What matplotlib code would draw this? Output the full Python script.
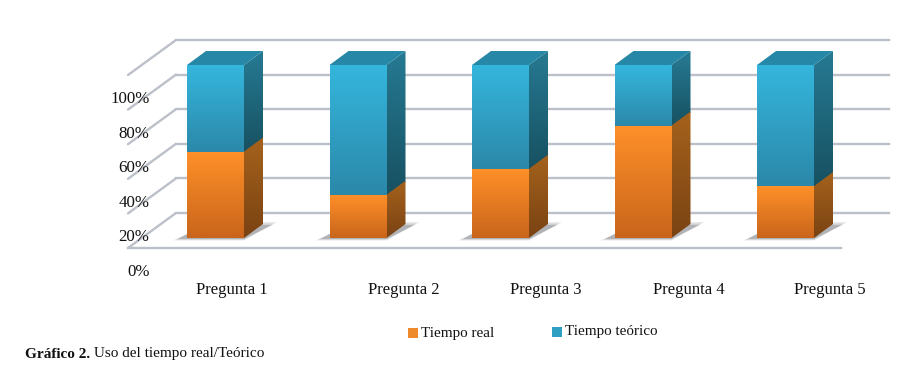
import numpy as np
import matplotlib
matplotlib.use("Agg")
import matplotlib.pyplot as plt
from matplotlib.colors import LinearSegmentedColormap
from matplotlib.patches import Polygon, Rectangle

categories = ["Pregunta 1", "Pregunta 2", "Pregunta 3", "Pregunta 4", "Pregunta 5"]
tiempo_real = [50, 25, 40, 65, 30]
tiempo_teorico = [50, 75, 60, 35, 70]
y_ticks = [0, 20, 40, 60, 80, 100]
y_tick_labels = ["0%", "20%", "40%", "60%", "80%", "100%"]
series_names = ["Tiempo real", "Tiempo teórico"]
caption_bold = "Gráfico 2."
caption_rest = " Uso del tiempo real/Teórico"

W, H = 901, 365
PX_X, PX_Y = 142.5, 1.73          # pixels per category / per percent
X0, Y0 = 215.5, 238               # pixel of first category, 0 %
BAR_W = 57 / PX_X
BAR_DX, BAR_DY = 19 / PX_X, 14 / PX_Y
WALL_DX, WALL_DY = 48 / PX_X, 35 / PX_Y
WALL_OFF = -10 / PX_Y             # front wall edge sits below the bars' base
WALL_L, WALL_R = (128 - X0) / PX_X, (841 - X0) / PX_X

plt.rcParams["font.family"] = ["Liberation Serif", "DejaVu Serif"]
fig = plt.figure(figsize=(W / 100, H / 100), dpi=100, facecolor="white")
ax = fig.add_axes([0, 0, 1, 1])
xlim = (-X0 / PX_X, (W - X0) / PX_X)
ylim = ((Y0 - H) / PX_Y, Y0 / PX_Y)
ax.axis("off")


def grad_fill(poly, top, bottom, z):
    xs, ys = zip(*poly)
    cmap = LinearSegmentedColormap.from_list("g", [bottom, top])
    im = ax.imshow(np.linspace(1, 0, 64).reshape(-1, 1), cmap=cmap, vmin=0, vmax=1,
                   extent=(min(xs), max(xs), min(ys), max(ys)), aspect="auto",
                   origin="upper", zorder=z, interpolation="bilinear")
    im.set_clip_path(Polygon(poly, transform=ax.transData))


GRID = "#bcc0c8"
LW = 1.7
for t in y_ticks:
    y = t + WALL_OFF
    ax.plot([WALL_L, WALL_L + WALL_DX], [y, y + WALL_DY], color=GRID, lw=LW,
            solid_capstyle="round", zorder=1)
    ax.plot([WALL_L + WALL_DX, WALL_R + WALL_DX], [y + WALL_DY, y + WALL_DY],
            color=GRID, lw=LW, zorder=1)
ax.plot([WALL_L, WALL_R], [WALL_OFF, WALL_OFF], color=GRID, lw=LW, zorder=1)

ORANGE = dict(front=("#ff9029", "#c9651b"), side=("#a5621c", "#7a4313"))
BLUE = dict(front=("#35b6dd", "#2b88a9"), side=("#267a93", "#175161"))
EPS = 0.8  # overlap that hides the seam between stacked segments

for i, (r, t) in enumerate(zip(tiempo_real, tiempo_teorico)):
    l, rr = i - BAR_W / 2, i + BAR_W / 2
    # soft floor shadow
    for g, a in zip((5, 2.5, 0), (0.14, 0.2, 0.3)):
        gx, gy = g / PX_X, g / PX_Y
        ax.add_patch(Polygon([(l - 9 / PX_X - gx, -1 / PX_Y - gy * 0.3),
                              (rr, -1 / PX_Y - gy * 0.3),
                              (rr + 28 / PX_X + gx, 13 / PX_Y + gy * 0.6),
                              (rr, 13 / PX_Y + gy * 0.6),
                              (l, 4 / PX_Y)],
                             closed=True, fc="#6a6d72", ec="none", alpha=a, zorder=2))
    for base, val, st in ((r, t, BLUE), (0, r, ORANGE)):
        top = base + val
        grad_fill([(l, base - (EPS if st is BLUE else 0)),
                   (rr, base - (EPS if st is BLUE else 0)), (rr, top), (l, top)],
                  *st["front"], 3 if st is BLUE else 3.1)
        grad_fill([(rr, base - (EPS if st is BLUE else 0)),
                   (rr + BAR_DX, base + BAR_DY - (EPS if st is BLUE else 0)),
                   (rr + BAR_DX, top + BAR_DY), (rr, top)],
                  *st["side"], 3 if st is BLUE else 3.1)
    total = r + t
    ax.add_patch(Polygon([(l, total), (rr, total), (rr + BAR_DX, total + BAR_DY),
                          (l + BAR_DX, total + BAR_DY)], closed=True, fc="#2688a6",
                         ec="none", zorder=3))

ax.set_xlim(*xlim)
ax.set_ylim(*ylim)


def px(x, y):
    return x / W, 1 - y / H


tx = fig.transFigure
for t, lab in zip(y_ticks, y_tick_labels):
    ax.text(*px(149.5, 272 - t * PX_Y), lab, transform=tx, ha="right", va="center",
            fontsize=12.2, color="#111111", zorder=5)
label_x = [232, 404, 546, 689, 830]
for x, lab in zip(label_x, categories):
    ax.text(*px(x, 290), lab, transform=tx, ha="center", va="center", fontsize=12,
            color="#111111")

for xb, xt, y, name, st in ((408, 421, 333, series_names[0], ORANGE),
                            (552, 565, 332, series_names[1], BLUE)):
    s0, s1 = px(xb, y + 5), px(xb + 10, y - 5)
    x0, y0 = s0
    fig.add_artist(Rectangle((x0, y0), s1[0] - x0, s1[1] - y0, transform=tx,
                             fc="#ee8a2c" if st is ORANGE else "#2f9fc2", ec="none"))
    ax.text(*px(xt, y), name, transform=tx, ha="left", va="center", fontsize=10.9,
            color="#111111")

cap = ax.text(*px(25, 354), caption_bold, transform=tx, ha="left", va="center",
              fontsize=11, fontweight="bold", color="#111111")
fig.canvas.draw()
bb = cap.get_window_extent()
ax.text(bb.x1 / W, 1 - 354 / H, caption_rest, transform=tx, ha="left", va="center",
        fontsize=11, color="#111111")

fig.savefig("out.png", dpi=100, facecolor="white")
